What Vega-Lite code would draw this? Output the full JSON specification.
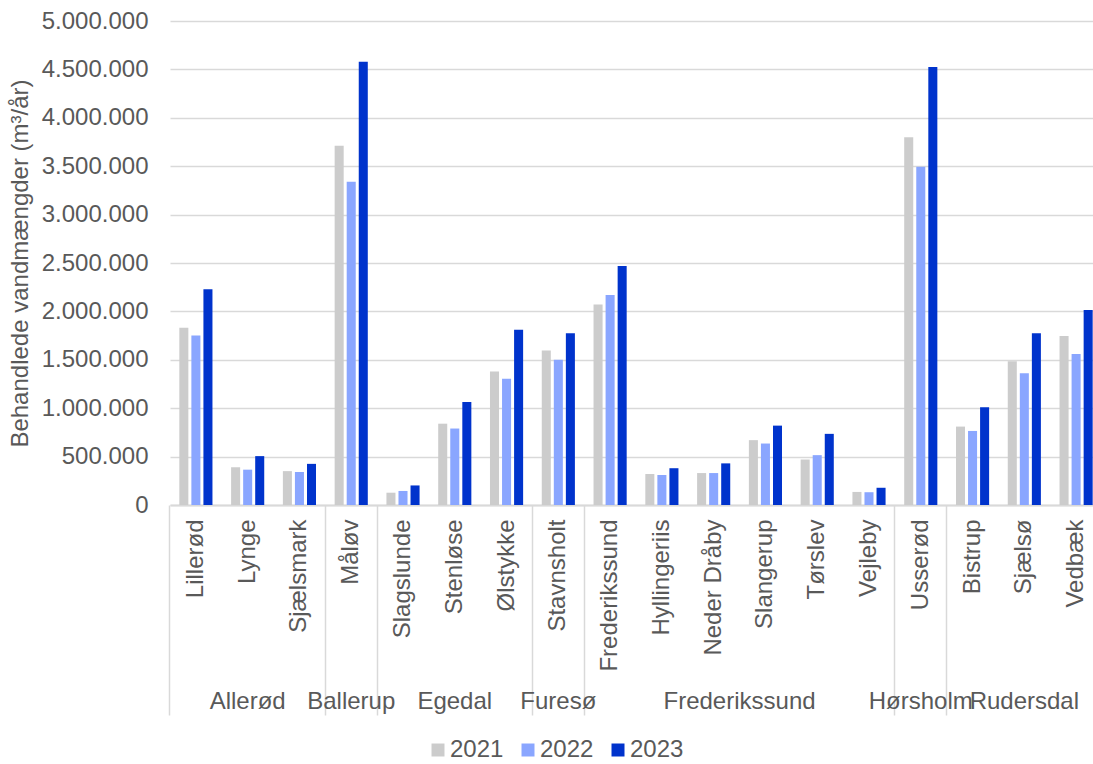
{
  "$schema": "https://vega.github.io/schema/vega-lite/v6.json",
  "width": 932,
  "height": 484,
  "autosize": {"type": "none"},
  "padding": {"left": 170, "top": 21, "right": 0, "bottom": 259},
  "background": "white",
  "config": {
    "locale": {"number": {"decimal": ",", "thousands": ".", "grouping": [3], "currency": ["", " kr."]}},
    "view": {"stroke": null},
    "font": "Liberation Sans",
    "axis": {"labelFont": "Liberation Sans", "titleFont": "Liberation Sans", "labelColor": "#595959", "titleColor": "#595959"}
  },
  "datasets": {
    "plants": [
      {"plant": "Lillerød", "group": "Allerød", "year": "2021", "value": 1830000},
      {"plant": "Lillerød", "group": "Allerød", "year": "2022", "value": 1750000},
      {"plant": "Lillerød", "group": "Allerød", "year": "2023", "value": 2230000},
      {"plant": "Lynge", "group": "Allerød", "year": "2021", "value": 390000},
      {"plant": "Lynge", "group": "Allerød", "year": "2022", "value": 365000},
      {"plant": "Lynge", "group": "Allerød", "year": "2023", "value": 505000},
      {"plant": "Sjælsmark", "group": "Allerød", "year": "2021", "value": 350000},
      {"plant": "Sjælsmark", "group": "Allerød", "year": "2022", "value": 340000},
      {"plant": "Sjælsmark", "group": "Allerød", "year": "2023", "value": 425000},
      {"plant": "Måløv", "group": "Ballerup", "year": "2021", "value": 3710000},
      {"plant": "Måløv", "group": "Ballerup", "year": "2022", "value": 3340000},
      {"plant": "Måløv", "group": "Ballerup", "year": "2023", "value": 4580000},
      {"plant": "Slagslunde", "group": "Egedal", "year": "2021", "value": 127000},
      {"plant": "Slagslunde", "group": "Egedal", "year": "2022", "value": 145000},
      {"plant": "Slagslunde", "group": "Egedal", "year": "2023", "value": 202000},
      {"plant": "Stenløse", "group": "Egedal", "year": "2021", "value": 840000},
      {"plant": "Stenløse", "group": "Egedal", "year": "2022", "value": 790000},
      {"plant": "Stenløse", "group": "Egedal", "year": "2023", "value": 1065000},
      {"plant": "Ølstykke", "group": "Egedal", "year": "2021", "value": 1380000},
      {"plant": "Ølstykke", "group": "Egedal", "year": "2022", "value": 1305000},
      {"plant": "Ølstykke", "group": "Egedal", "year": "2023", "value": 1810000},
      {"plant": "Stavnsholt", "group": "Furesø", "year": "2021", "value": 1595000},
      {"plant": "Stavnsholt", "group": "Furesø", "year": "2022", "value": 1500000},
      {"plant": "Stavnsholt", "group": "Furesø", "year": "2023", "value": 1775000},
      {"plant": "Frederikssund", "group": "Frederikssund", "year": "2021", "value": 2070000},
      {"plant": "Frederikssund", "group": "Frederikssund", "year": "2022", "value": 2170000},
      {"plant": "Frederikssund", "group": "Frederikssund", "year": "2023", "value": 2470000},
      {"plant": "Hyllingeriis", "group": "Frederikssund", "year": "2021", "value": 320000},
      {"plant": "Hyllingeriis", "group": "Frederikssund", "year": "2022", "value": 310000},
      {"plant": "Hyllingeriis", "group": "Frederikssund", "year": "2023", "value": 380000},
      {"plant": "Neder Dråby", "group": "Frederikssund", "year": "2021", "value": 330000},
      {"plant": "Neder Dråby", "group": "Frederikssund", "year": "2022", "value": 330000},
      {"plant": "Neder Dråby", "group": "Frederikssund", "year": "2023", "value": 430000},
      {"plant": "Slangerup", "group": "Frederikssund", "year": "2021", "value": 670000},
      {"plant": "Slangerup", "group": "Frederikssund", "year": "2022", "value": 635000},
      {"plant": "Slangerup", "group": "Frederikssund", "year": "2023", "value": 820000},
      {"plant": "Tørslev", "group": "Frederikssund", "year": "2021", "value": 470000},
      {"plant": "Tørslev", "group": "Frederikssund", "year": "2022", "value": 515000},
      {"plant": "Tørslev", "group": "Frederikssund", "year": "2023", "value": 735000},
      {"plant": "Vejleby", "group": "Frederikssund", "year": "2021", "value": 135000},
      {"plant": "Vejleby", "group": "Frederikssund", "year": "2022", "value": 132000},
      {"plant": "Vejleby", "group": "Frederikssund", "year": "2023", "value": 178000},
      {"plant": "Usserød", "group": "Hørsholm", "year": "2021", "value": 3800000},
      {"plant": "Usserød", "group": "Hørsholm", "year": "2022", "value": 3495000},
      {"plant": "Usserød", "group": "Hørsholm", "year": "2023", "value": 4525000},
      {"plant": "Bistrup", "group": "Rudersdal", "year": "2021", "value": 810000},
      {"plant": "Bistrup", "group": "Rudersdal", "year": "2022", "value": 765000},
      {"plant": "Bistrup", "group": "Rudersdal", "year": "2023", "value": 1010000},
      {"plant": "Sjælsø", "group": "Rudersdal", "year": "2021", "value": 1485000},
      {"plant": "Sjælsø", "group": "Rudersdal", "year": "2022", "value": 1360000},
      {"plant": "Sjælsø", "group": "Rudersdal", "year": "2023", "value": 1775000},
      {"plant": "Vedbæk", "group": "Rudersdal", "year": "2021", "value": 1745000},
      {"plant": "Vedbæk", "group": "Rudersdal", "year": "2022", "value": 1560000},
      {"plant": "Vedbæk", "group": "Rudersdal", "year": "2023", "value": 2015000}
    ],
    "groupsOdd": [
      {"group": "Allerød", "anchor": "Lynge"},
      {"group": "Ballerup", "anchor": "Måløv"},
      {"group": "Egedal", "anchor": "Stenløse"},
      {"group": "Furesø", "anchor": "Stavnsholt"},
      {"group": "Hørsholm", "anchor": "Usserød"},
      {"group": "Rudersdal", "anchor": "Sjælsø"}
    ],
    "groupsEven": [
      {"group": "Frederikssund", "anchor": "Neder Dråby"}
    ]
  },
  "layer": [
    {
      "data": {"name": "plants"},
      "mark": {"type": "bar"},
      "encoding": {
        "x": {
          "field": "plant",
          "type": "nominal",
          "sort": null,
          "title": null,
          "scale": {
            "domain": ["Lillerød", "Lynge", "Sjælsmark", "Måløv", "Slagslunde", "Stenløse", "Ølstykke", "Stavnsholt", "Frederikssund", "Hyllingeriis", "Neder Dråby", "Slangerup", "Tørslev", "Vejleby", "Usserød", "Bistrup", "Sjælsø", "Vedbæk"],
            "paddingInner": 0.36,
            "paddingOuter": 0.18
          },
          "axis": {
            "labelAngle": -90,
            "labelFontSize": 24,
            "labelPadding": -196,
            "labelOverlap": false,
            "labelBound": false,
            "domainColor": "#D9D9D9",
            "domainWidth": 2,
            "ticks": true,
            "bandPosition": -0.28125,
            "tickSize": 210,
            "tickWidth": 1.5,
            "tickColor": {
              "condition": {"test": "indexof(['Lillerød','Måløv','Slagslunde','Stavnsholt','Frederikssund','Usserød','Bistrup'], datum.value) >= 0", "value": "#D9D9D9"},
              "value": "transparent"
            },
            "grid": false
          }
        },
        "xOffset": {"field": "year", "type": "nominal", "scale": {"paddingInner": 0.25, "paddingOuter": 0}},
        "y": {
          "field": "value",
          "type": "quantitative",
          "title": "Behandlede vandmængder (m³/år)",
          "scale": {"domain": [0, 5000000], "nice": false},
          "axis": {
            "values": [0, 500000, 1000000, 1500000, 2000000, 2500000, 3000000, 3500000, 4000000, 4500000, 5000000],
            "format": ",d",
            "labelFontSize": 24,
            "labelPadding": 22,
            "titleFontSize": 24,
            "titleFontWeight": "normal",
            "titlePadding": 9,
            "domain": false,
            "ticks": false,
            "gridColor": "#D9D9D9",
            "gridWidth": 1.5
          }
        },
        "color": {
          "field": "year",
          "type": "nominal",
          "scale": {"domain": ["2021", "2022", "2023"], "range": ["#CCCCCC", "#8AA6FF", "#0033CC"]},
          "legend": {
            "title": null,
            "orient": "none",
            "direction": "horizontal",
            "legendX": 256,
            "legendY": 717,
            "padding": 0,
            "symbolType": "square",
            "symbolSize": 169,
            "symbolStrokeWidth": 0,
            "labelFontSize": 24,
            "labelFont": "Liberation Sans",
            "labelColor": "#595959",
            "labelOffset": 0,
            "columnPadding": 12
          }
        }
      }
    },
    {
      "data": {"name": "groupsOdd"},
      "mark": {"type": "text", "fontSize": 24, "font": "Liberation Sans", "color": "#595959", "baseline": "middle", "align": "center", "dy": 197},
      "encoding": {
        "x": {"field": "anchor", "type": "nominal", "bandPosition": 0.5},
        "y": {"datum": 0},
        "text": {"field": "group"}
      }
    },
    {
      "data": {"name": "groupsEven"},
      "mark": {"type": "text", "fontSize": 24, "font": "Liberation Sans", "color": "#595959", "baseline": "middle", "align": "center", "dy": 197},
      "encoding": {
        "x": {"field": "anchor", "type": "nominal", "bandPosition": 1.28125},
        "y": {"datum": 0},
        "text": {"field": "group"}
      }
    }
  ]
}
